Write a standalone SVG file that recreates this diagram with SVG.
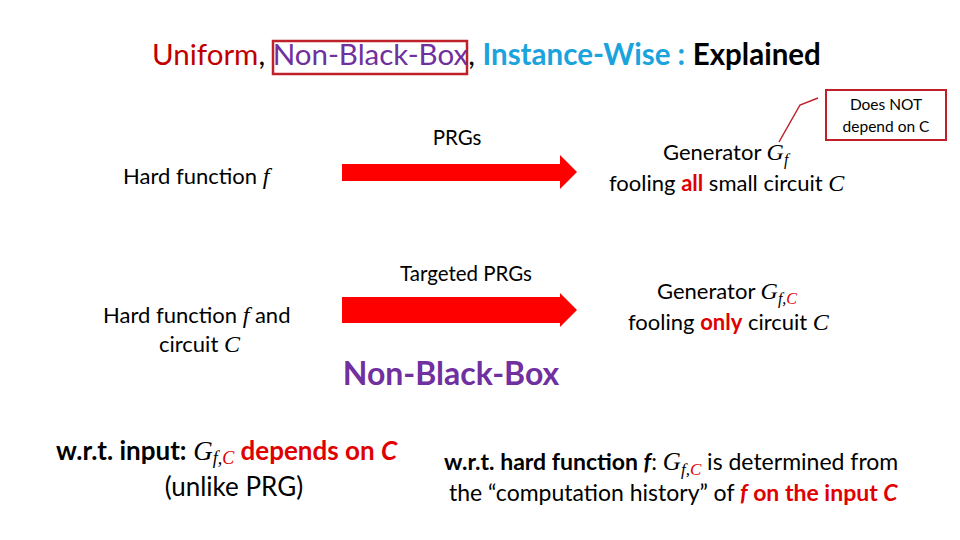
<svg xmlns="http://www.w3.org/2000/svg" width="960" height="540" viewBox="0 0 960 540">
<style>
  text { font-family: Lato, "Open Sans", "Liberation Sans", sans-serif; }
  .m { font-family: "Liberation Serif", "DejaVu Serif", serif; font-style: italic; }
  .red { fill: #E00000; }
  .b { font-weight: bold; }
  .lbl { font-size: 20.5px; }
  .body { font-size: 22px; }
  .arrow { fill: #FF0000; }
  .purple { fill: #7030A0; }
</style>
<rect width="960" height="540" fill="#fff"/>

<g id="title">
  <rect x="273" y="41" width="194" height="33" fill="none" stroke="#C0202A" stroke-width="2.5"/>
  <text x="152" y="65" font-size="29.5"><tspan fill="#C00000">Uniform</tspan>, <tspan fill="#7030A0">Non-Black-Box</tspan>, <tspan fill="#1AA3DD" font-weight="bold">Instance-Wise :</tspan> <tspan font-weight="bold">Explained</tspan></text>
</g>

<g id="note">
  <rect x="826" y="90" width="120" height="50" fill="#fff" stroke="#C0202A" stroke-width="2"/>
  <text x="886" y="110" font-size="15.5" text-anchor="middle">Does NOT</text>
  <text x="886" y="132" font-size="15.5" text-anchor="middle">depend on C</text>
</g>

<g id="connectors">
  <polyline points="779,142 800,105 818,98" fill="none" stroke="#C0202A" stroke-width="1.5"/>
  <polygon class="arrow" points="342,164 560,164 560,155 577,172 560,189 560,181 342,181"/>
  <polygon class="arrow" points="342,297 560,297 560,293 577,310 560,327 560,323 342,323"/>
</g>

<g id="prgs">
  <text x="457" y="145" class="lbl" text-anchor="middle">PRGs</text>
</g>

<g id="hard1">
  <text x="123" y="184" class="body">Hard function <tspan class="m" font-size="24">f</tspan></text>
</g>

<g id="gen1">
  <text x="663" y="160" class="body">Generator <tspan class="m" font-size="24">G</tspan><tspan class="m" font-size="16" dy="5">f</tspan></text>
  <text x="609" y="191" class="body">fooling <tspan class="red b">all</tspan> small circuit <tspan class="m" font-size="24">C</tspan></text>
</g>

<g id="targeted">
  <text x="466" y="281" class="lbl" text-anchor="middle">Targeted PRGs</text>
</g>

<g id="hard2">
  <text x="103" y="323" class="body">Hard function <tspan class="m" font-size="24">f</tspan>  and</text>
  <text x="159" y="352" class="body">circuit <tspan class="m" font-size="24">C</tspan></text>
</g>

<g id="gen2">
  <text x="657" y="299" class="body">Generator <tspan class="m" font-size="24">G</tspan><tspan class="m" font-size="16" dy="5">f,</tspan><tspan class="m red" font-size="16">C</tspan></text>
  <text x="628" y="330" class="body">fooling <tspan class="red b">only</tspan> circuit <tspan class="m" font-size="24">C</tspan></text>
</g>

<g id="nbb">
  <text x="451" y="385" font-size="32" class="purple b" text-anchor="middle">Non-Black-Box</text>
</g>

<g id="input">
  <text x="56" y="460" font-size="26"><tspan class="b">w.r.t. input:</tspan>   <tspan class="m" font-size="27">G</tspan><tspan class="m" font-size="18" dy="4">f,</tspan><tspan class="m red" font-size="18">C</tspan><tspan dy="-4" class="red b">  depends on </tspan><tspan class="red b" font-style="italic">C</tspan></text>
  <text x="234" y="496" font-size="26" text-anchor="middle">(unlike PRG)</text>
</g>

<g id="hardfn">
  <text x="444" y="470" font-size="23"><tspan class="b">w.r.t. hard function </tspan><tspan class="b" font-style="italic">f</tspan>: <tspan class="m" font-size="25">G</tspan><tspan class="m" font-size="17" dy="5">f,</tspan><tspan class="m red" font-size="17">C</tspan><tspan dy="-5"> is determined from</tspan></text>
  <text x="449" y="501" font-size="23">the “computation history” of <tspan class="red b" font-style="italic">f</tspan><tspan class="red b"> on the input </tspan><tspan class="red b" font-style="italic">C</tspan></text>
</g>
</svg>
